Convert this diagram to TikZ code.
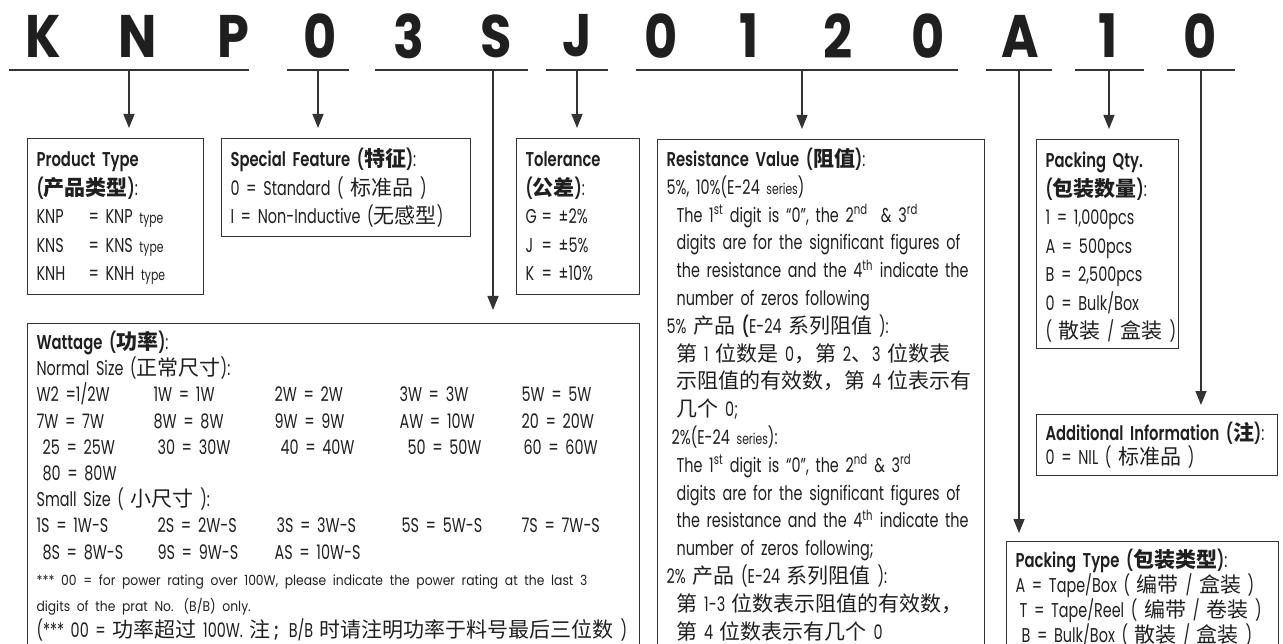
\documentclass[tikz,border=0pt]{standalone}
\usepackage{fontspec}
\setmainfont{Poppins}[BoldFont={* SemiBold},
  UprightFeatures={FakeStretch=0.72}, BoldFeatures={FakeStretch=0.74}]
\newfontfamily\cjk{Noto Sans CJK SC}[Scale=1.05]
\newfontfamily\bigfont{Poppins}[UprightFont={* Bold}, FakeStretch=0.85]
\newfontfamily\smallfont{Poppins}[FakeStretch=0.88]
\usepackage{tikz}
\usetikzlibrary{arrows.meta}
\definecolor{inkGray}{gray}{0.12}
\definecolor{lineGray}{gray}{0.2}
\newcommand\zh[1]{{\cjk #1}}
\newcommand\smtxt[1]{{\fontsize{15}{15}\selectfont #1}}
\newcommand\wrow[5]{\makebox[117pt][l]{#1}\makebox[121pt][l]{#2}\makebox[125pt][l]{#3}\makebox[122pt][l]{#4}#5}
\tikzset{
  digit/.style={font=\bigfont\fontsize{60}{60}\selectfont, inner sep=0pt, text=inkGray},
  bar/.style={rectangle, fill=lineGray, inner sep=0pt, minimum height=2pt},
  arrow/.style={-{Triangle[length=14pt,width=11pt]}, line width=1.4pt, draw=lineGray, shorten >=10pt},
  box/.style={rectangle, draw=lineGray, line width=1.1pt, anchor=north west, align=left,
    inner xsep=9pt, inner ysep=8pt, text height=20pt, text=inkGray, font=\fontsize{20}{28.5}\selectfont}
}

\begin{document}
\begin{tikzpicture}[x=1pt, y=-1pt]
  \useasboundingbox (0,0) rectangle (1283,644);
  % part number
  \node[digit] (cK) at (43,36) {K};
  \node[digit] (cN) at (138,36) {N};
  \node[digit] (cP) at (233,36) {P};
  \node[digit] (cFeat) at (320,36) {0};
  \node[digit] (cW1) at (409,36) {3};
  \node[digit] (cW2) at (496,36) {S};
  \node[digit] (cTol) at (577,36) {J};
  \node[digit] (cR1) at (661,36) {0};
  \node[digit] (cR2) at (749,36) {1};
  \node[digit] (cR3) at (838,36) {2};
  \node[digit] (cR4) at (928,36) {0};
  \node[digit] (cPack) at (1020,36) {A};
  \node[digit] (cQty) at (1108,36) {1};
  \node[digit] (cInfo) at (1200,36) {0};
  % underlines
  \node[bar, minimum width=240pt] (barKNP) at (129,70) {};
  \node[bar, minimum width=62pt] (barFeat) at (318,70) {};
  \node[bar, minimum width=153pt] (barWatt) at (451.5,70) {};
  \node[bar, minimum width=62pt] (barTol) at (577,70) {};
  \node[bar, minimum width=322pt] (barRes) at (797,70) {};
  \node[bar, minimum width=66pt] (barPack) at (1019,70) {};
  \node[bar, minimum width=69pt] (barQty) at (1109,70) {};
  \node[bar, minimum width=68pt] (barInfo) at (1201,70) {};
  \coordinate (wattDrop) at (493,70);
  \coordinate (resDrop) at (802,70);
  % boxes
  \node[box, text width=158pt, text depth=120pt] (prodtype) at (27,138) {%
    \textbf{Product Type}\\
    \textbf{(\zh{产品类型})}:\\
    \makebox[52pt][l]{KNP}= KNP \smtxt{type}\\
    \makebox[52pt][l]{KNS}= KNS \smtxt{type}\\
    \makebox[52pt][l]{KNH}= KNH \smtxt{type}};
  \node[box, text width=231pt, text depth=62pt] (feature) at (221,138) {%
    \mbox{\textbf{Special Feature (\zh{特征})}:}\\
    \mbox{0 = Standard ( \zh{标准品} )}\\
    \mbox{I = Non-Inductive (\zh{无感型})}};
  \node[box, text width=105pt, text depth=120pt] (tolerance) at (516,138) {%
    \textbf{Tolerance}\\
    \textbf{(\zh{公差})}:\\
    \makebox[16pt][l]{G}= ±2\%\\
    \makebox[16pt][l]{J}= ±5\%\\
    \makebox[16pt][l]{K}= ±10\%};
  \node[box, text width=309pt, text height=19pt, text depth=600pt,
    font=\fontsize{20}{27.8}\selectfont] (resist) at (657,139) {%
    \textbf{Resistance Value (\zh{阻值})}:\\
    5\%, 10\%(E-24 \smtxt{series})\\
    \hspace*{10pt}\mbox{The 1\textsuperscript{st} digit is “0”, the 2\textsuperscript{nd} \ \& 3\textsuperscript{rd}}\\
    \hspace*{10pt}\mbox{digits are for the significant figures of}\\
    \hspace*{10pt}\mbox{the resistance and the 4\textsuperscript{th} indicate the}\\
    \hspace*{10pt}number of zeros following\\
    5\% \zh{产品} \textbf{(}E-24 \zh{系列阻值} ):\\
    \hspace*{10pt}\mbox{\zh{第} 1 \zh{位数是} 0\zh{，第} 2\zh{、}3 \zh{位数表}}\\
    \hspace*{10pt}\mbox{\zh{示阻值的有效数，第} 4 \zh{位表示有}}\\
    \hspace*{10pt}\zh{几个} 0;\\
    \hspace*{5pt}2\%(E-24 \smtxt{series}):\\
    \hspace*{10pt}\mbox{The 1\textsuperscript{st} digit is “0”, the 2\textsuperscript{nd} \& 3\textsuperscript{rd}}\\
    \hspace*{10pt}\mbox{digits are for the significant figures of}\\
    \hspace*{10pt}\mbox{the resistance and the 4\textsuperscript{th} indicate the}\\
    \hspace*{10pt}number of zeros following;\\
    2\% \zh{产品} (E-24 \zh{系列阻值} ):\\
    \hspace*{10pt}\mbox{\zh{第} 1-3 \zh{位数表示阻值的有效数，}}\\
    \hspace*{10pt}\mbox{\zh{第} 4 \zh{位数表示有几个} 0}};
  \node[box, text width=124pt, text depth=173pt] (qty) at (1036,139) {%
    \textbf{Packing Qty.}\\
    \textbf{(\zh{包装数量})}:\\
    1 = 1,000pcs\\
    A = 500pcs\\
    B = 2,500pcs\\
    0 = Bulk/Box\\
    \mbox{( \zh{散装} / \zh{盒装} )}};
  \node[box, text width=594pt, text height=18pt, text depth=600pt,
    font=\fontsize{20}{26.2}\selectfont] (watt) at (27,323) {%
    \textbf{Wattage (\zh{功率})}:\\
    Normal Size (\zh{正常尺寸}):\\
    \wrow{W2 =1/2W}{1W = 1W}{2W = 2W}{3W = 3W}{5W = 5W}\\
    \wrow{7W = 7W}{8W = 8W}{9W = 9W}{AW = 10W}{20 = 20W}\\
    \wrow{\hspace*{6pt}25 = 25W}{\hspace*{4pt}30 = 30W}{\hspace*{6pt}40 = 40W}{\hspace*{8pt}50 = 50W}{\hspace*{2pt}60 = 60W}\\
    \hspace*{6pt}80 = 80W\\
    Small Size ( \zh{小尺寸} ):\\
    \wrow{1S = 1W-S}{\hspace*{4pt}2S = 2W-S}{\hspace*{2pt}3S = 3W-S}{\hspace*{2pt}5S = 5W-S}{7S = 7W-S}\\
    \wrow{\hspace*{6pt}8S = 8W-S}{\hspace*{4pt}9S = 9W-S}{AS = 10W-S}{}{}\\
    {\smallfont\fontsize{14}{14}\selectfont\mbox{*** 00 = for power rating over 100W, please indicate the power rating at the last 3}}\\
    {\smallfont\fontsize{14}{14}\selectfont digits of the prat No. (B/B) only.}\\
    \mbox{(*** 00 = \zh{功率超过} 100W. \zh{注}\,\textbf{;}\, B/B \zh{时请注明功率于料号最后三位数} )}};
  \node[box, text width=223pt, text height=18pt, text depth=27pt,
    font=\fontsize{20}{22}\selectfont] (addinfo) at (1036,414) {%
    \mbox{\textbf{Additional Information (\zh{注})}:}\\
    0 = NIL ( \zh{标准品} )};
  \node[box, text width=254pt, text height=18pt, text depth=600pt,
    font=\fontsize{20}{22.3}\selectfont] (packtype) at (1006,541) {%
    \mbox{\textbf{Packing Type (\zh{包装类型})}:}\\
    \mbox{A = Tape/Box ( \zh{编带} / \zh{盒装} )}\\
    \mbox{\hspace*{4pt}T = Tape/Reel ( \zh{编带} / \zh{卷装} )}\\
    \mbox{\hspace*{6pt}B = Bulk/Box ( \zh{散装} / \zh{盒装} )}};
  % connectors
  \draw[arrow] (barKNP) -- (barKNP |- prodtype.north);
  \draw[arrow] (barFeat) -- (barFeat |- feature.north);
  \draw[arrow, shorten >=13pt] (wattDrop) -- (wattDrop |- watt.north);
  \draw[arrow] (barTol) -- (barTol |- tolerance.north);
  \draw[arrow] (resDrop) -- (resDrop |- resist.north);
  \draw[arrow, shorten >=8pt] (barPack) -- (barPack |- packtype.north);
  \draw[arrow] (barQty) -- (barQty |- qty.north);
  \draw[arrow, shorten >=9pt] (barInfo) -- (barInfo |- addinfo.north);
\end{tikzpicture}
\end{document}
